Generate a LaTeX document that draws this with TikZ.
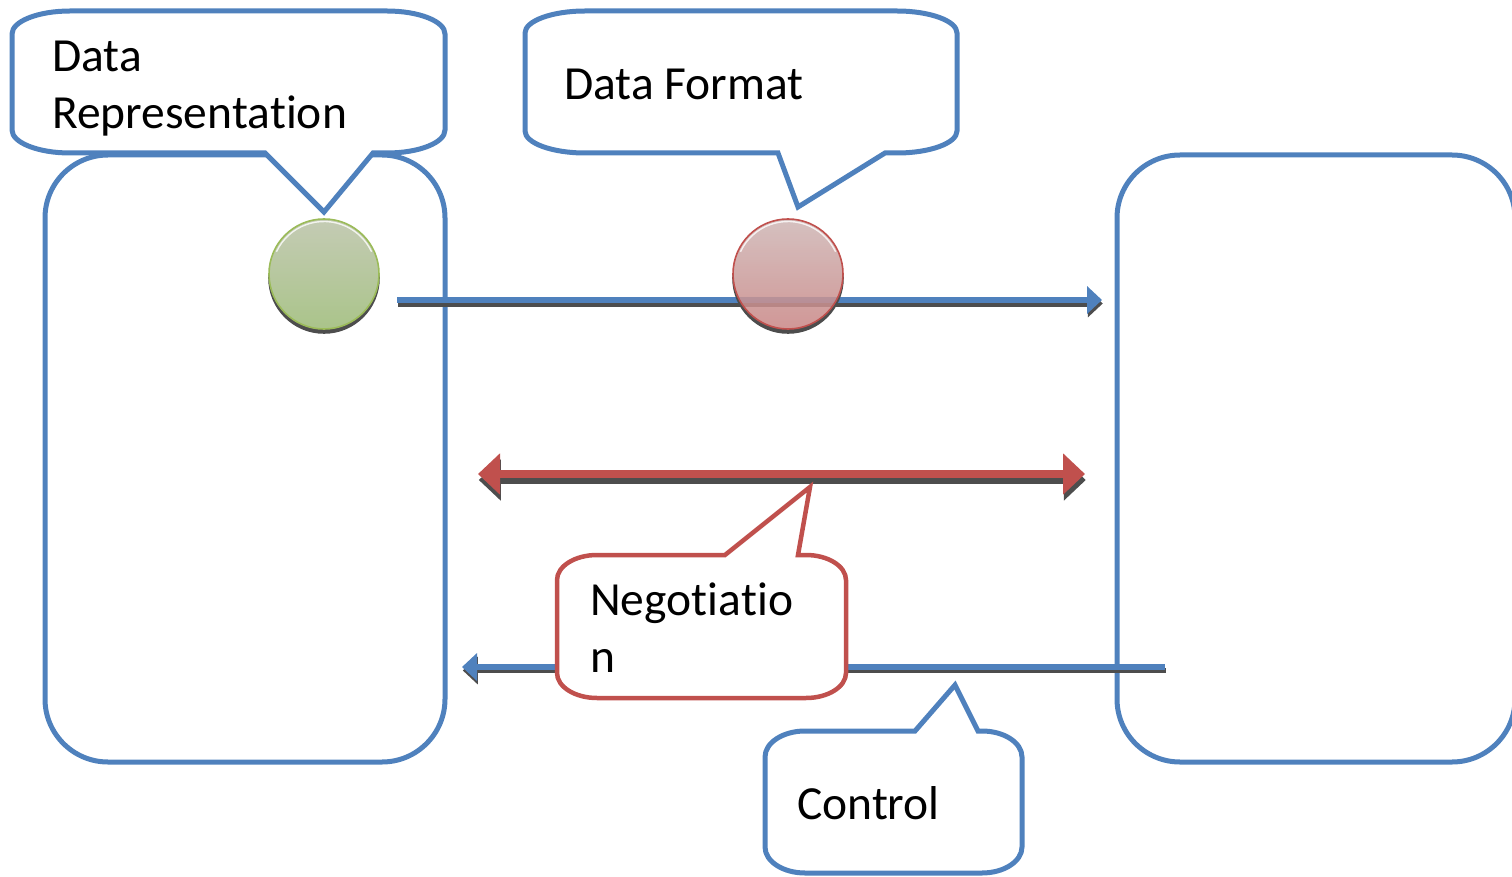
\documentclass[tikz,border=0pt]{standalone}
\usepackage{fontspec}
\setmainfont{Carlito}[Ligatures=NoCommon,Contextuals=NoAlternate,RawFeature={-liga;-clig;-calt;-dlig}]
\usetikzlibrary{arrows.meta}
\definecolor{boxblue}{RGB}{79,129,189}
\definecolor{calred}{RGB}{192,80,77}
\definecolor{ringgreen}{RGB}{155,187,89}
\definecolor{shadowgray}{RGB}{77,77,77}
\definecolor{greentop}{RGB}{196,203,180}
\definecolor{greenbot}{RGB}{170,196,138}
\definecolor{redtop}{RGB}{206,182,181}
\definecolor{redbot}{RGB}{201,134,133}

\begin{document}
\begin{tikzpicture}[x=1pt,y=-1pt,
  panel/.style={draw=boxblue,line width=5pt,rounded corners=63pt,inner sep=0pt},
  bluecall/.style={draw=boxblue,line width=5pt,fill=white},
  redcall/.style={draw=calred,line width=4.5pt,fill=white},
  lbl/.style={inner sep=0pt,anchor=base west,font=\fontsize{47.5}{57}\selectfont},
  dot/.style={circle,minimum size=110pt,inner sep=0pt,line width=1.6pt},
  bluehead/.style={-{Triangle[length=15pt,width=27pt]}},
  redheads/.style={{Triangle[length=22pt,width=40pt]}-{Triangle[length=22pt,width=40pt]}},
  dropshift/.style={transform canvas={shift={(0.8pt,-#1)}}}
]
\useasboundingbox (0,0) rectangle (1512,877);

% the two end systems
\node[panel,minimum width=400pt,minimum height=607pt] (leftsys) at (245,458.5) {};
\node[panel,minimum width=398pt,minimum height=607pt] (rightsys) at (1316,458.5) {};

% callout: data representation
\draw[bluecall] (12,34) .. controls (12,21.3) and (38,11) .. (70,11) -- (387,11)
  .. controls (419,11) and (445,21.3) .. (445,34) -- (445,130)
  .. controls (445,142.7) and (419,153) .. (387,153) -- (373,153) -- (324,212) -- (265,153) -- (70,153)
  .. controls (38,153) and (12,142.7) .. (12,130) -- cycle;
\node[lbl] (drep1) at (52,72) {Data};
\node[lbl] (drep2) at (52,129) {Representa\kern0pt tion};

% callout: data format
\draw[bluecall] (525,33) .. controls (525,20.9) and (552,11) .. (585,11) -- (897,11)
  .. controls (930,11) and (957,20.9) .. (957,33) -- (957,131)
  .. controls (957,143.1) and (930,153) .. (897,153) -- (885,153) -- (798,207) -- (778,153) -- (585,153)
  .. controls (552,153) and (525,143.1) .. (525,131) -- cycle;
\node[lbl] (dfmt) at (564,100) {Data Format};

% forward data arrow
\coordinate (fwdS) at (397,300);
\coordinate (fwdE) at (1102,300);
\draw[shadowgray,line width=6pt,bluehead,dropshift=3.5pt] (fwdS) -- (fwdE);
\draw[boxblue,line width=6pt,bluehead] (fwdS) -- (fwdE);

% negotiation arrow
\coordinate (negL) at (478,474);
\coordinate (negR) at (1085,474);
\draw[shadowgray,line width=7.5pt,redheads,dropshift=6pt] (negL) -- (negR);
\draw[calred,line width=7.5pt,redheads] (negL) -- (negR);

% control arrow back to the sender
\coordinate (ctlS) at (1165,667);
\coordinate (ctlE) at (462,667);
\draw[shadowgray,line width=5.5pt,bluehead,dropshift=3.5pt] (ctlS) -- (ctlE);
\draw[boxblue,line width=5.5pt,bluehead] (ctlS) -- (ctlE);

% green dot with its drop shadow
\begin{scope}
  \clip (250,274) rectangle (400,340);
  \fill[shadowgray,even odd rule] (324,278) circle[radius=55.8pt] (324,274) circle[radius=55pt];
\end{scope}
\node[dot,draw=ringgreen,top color=greentop,bottom color=greenbot] (gdot) at (324,274) {};
\draw[white,line width=1.4pt,opacity=0.8] ([shift={(155:52.5pt)}]gdot.center) arc[start angle=155,end angle=25,radius=52.5pt];

% red dot with its drop shadow
\begin{scope}
  \clip (714,274) rectangle (864,340);
  \fill[shadowgray,even odd rule] (788,278) circle[radius=55.8pt] (788,274) circle[radius=55pt];
\end{scope}
\node[dot,draw=calred,top color=redtop,bottom color=redbot,fill opacity=0.86] (rdot) at (788,274) {};
\draw[white,line width=1.4pt,opacity=0.8] ([shift={(155:52.5pt)}]rdot.center) arc[start angle=155,end angle=25,radius=52.5pt];

% callout: negotiation
\draw[redcall] (557,580) .. controls (557,566.2) and (575,555) .. (597,555) -- (725,555) -- (810,487) -- (798,555) -- (806,555)
  .. controls (828,555) and (846,566.2) .. (846,580) -- (846,673)
  .. controls (846,686.8) and (828,698) .. (806,698) -- (597,698)
  .. controls (575,698) and (557,686.8) .. (557,673) -- cycle;
\node[lbl] (neg1) at (590,615) {Negotia\kern0pt tio};
\node[lbl] (neg2) at (590,672) {n};

% callout: control
\draw[bluecall] (765,757) .. controls (765,742.6) and (783,731) .. (805,731) -- (915,731) -- (955,685) -- (978,731) -- (982,731)
  .. controls (1004,731) and (1022,742.6) .. (1022,757) -- (1022,847)
  .. controls (1022,861.4) and (1004,873) .. (982,873) -- (805,873)
  .. controls (783,873) and (765,861.4) .. (765,847) -- cycle;
\node[lbl] (ctl) at (797,819) {Control};
\end{tikzpicture}
\end{document}
